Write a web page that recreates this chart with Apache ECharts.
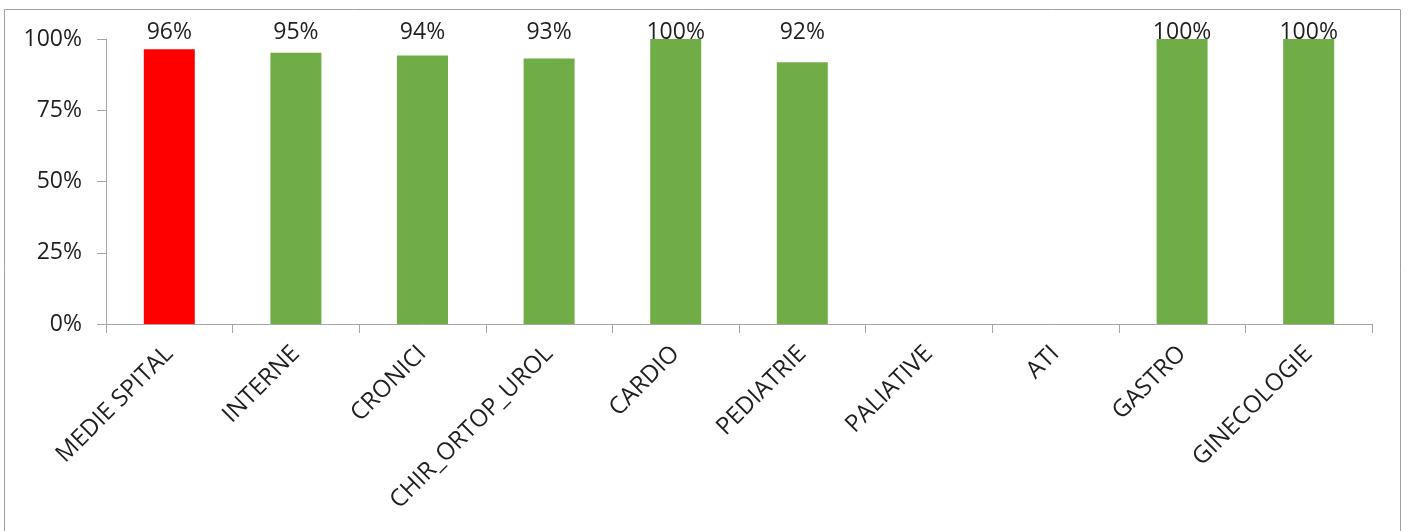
<!DOCTYPE html>
<html>
<head>
<meta charset="utf-8">
<script src="https://cdn.jsdelivr.net/npm/echarts@6/dist/echarts.min.js"></script>
<style>
html,body{margin:0;padding:0;background:#fff;}
#chart{width:1408px;height:531px;}
</style>
</head>
<body>
<div id="chart"></div>
<script>
const categories = ['MEDIE SPITAL','INTERNE','CRONICI','CHIR_ORTOP_UROL','CARDIO','PEDIATRIE','PALIATIVE','ATI','GASTRO','GINECOLOGIE'];
const values = [96.4, 95.2, 94.2, 93.2, 100, 91.8, null, null, 100, 100];
const barColors = ['#FF0000','#70AD47','#70AD47','#70AD47','#70AD47','#70AD47','#70AD47','#70AD47','#70AD47','#70AD47'];
const yTicks = [0, 25, 50, 75, 100];

const FONT = 'Open Sans';
const TXT = '#1F1F1F';
const AX = '#A6A6A6';

const chart = echarts.init(document.getElementById('chart'), null, {renderer:'canvas'});
chart.setOption({
  backgroundColor: '#fff',
  animation: false,
  graphic: [{
    type: 'rect', silent: true,
    shape: {x: 4.5, y: 9.5, width: 1396, height: 540},
    style: {fill: 'none', stroke: '#A0A0A0', lineWidth: 1}
  }],
  grid: {left: 106, right: 36, top: 39, bottom: 207, containLabel: false},
  xAxis: [{
    type: 'category',
    data: categories,
    boundaryGap: true,
    axisLine: {show: true, lineStyle: {color: AX, width: 1}},
    axisTick: {show: true, interval: 0, length: 9, lineStyle: {color: AX}},
    axisLabel: {interval: 0, rotate: 45, margin: 26, color: TXT, fontFamily: FONT, fontSize: 24}
  }, {
    type: 'category',
    position: 'top',
    data: values.map(v => v == null ? '' : Math.round(v) + '%'),
    boundaryGap: true,
    axisLine: {show: false},
    axisTick: {show: false},
    axisLabel: {interval: 0, margin: -5, color: TXT, fontFamily: FONT, fontSize: 23}
  }],
  yAxis: {
    type: 'value',
    min: yTicks[0], max: yTicks[yTicks.length - 1], interval: 25,
    splitLine: {show: false},
    axisLine: {show: true, lineStyle: {color: AX, width: 1}},
    axisTick: {show: true, length: 9, lineStyle: {color: AX}},
    axisLabel: {formatter: '{value}%', margin: 24, color: TXT, fontFamily: FONT, fontSize: 23}
  },
  series: [{
    type: 'bar',
    xAxisIndex: 0,
    barWidth: 51,
    data: values.map((v, i) => ({value: v, itemStyle: {color: barColors[i]}}))
  }]
});
</script>
</body>
</html>
